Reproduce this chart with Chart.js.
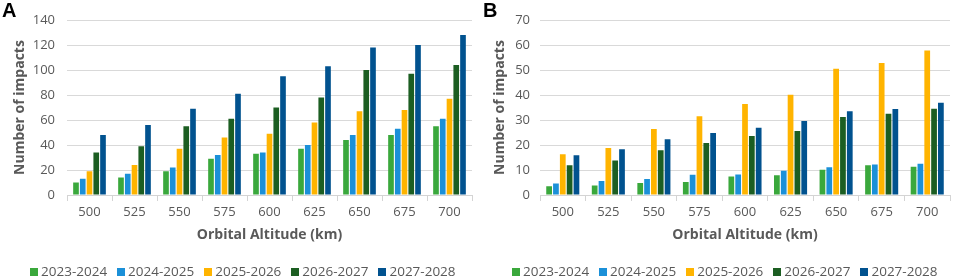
<!DOCTYPE html>
<html>
<head>
<meta charset="utf-8">
<script src="https://cdn.jsdelivr.net/npm/chart.js@4"></script>
<style>
  body { margin: 0; background: #fff; font-family: "Open Sans", sans-serif; }
  .panel { position: absolute; top: 0; height: 279px; }
  .letter { position: absolute; top: -1px; font: bold 20px "Liberation Sans", Arial, sans-serif; color: #000; }
  .legend { position: absolute; top: 262px; white-space: nowrap; font-size: 13.5px; color: #595959; }
  .legend span.item { display: inline-block; margin-right: 10px; }
  .legend i { display: inline-block; width: 8px; height: 8px; margin-right: 3px; }
</style>
</head>
<body>
<div class="panel" style="left:0;width:480px">
  <canvas id="chartA" width="480" height="279"></canvas>
  <div class="letter" style="left:2px">A</div>
  <div class="legend" id="legendA" style="left:30px"></div>
</div>
<div class="panel" style="left:480px;width:475px">
  <canvas id="chartB" width="475" height="279"></canvas>
  <div class="letter" style="left:3px">B</div>
  <div class="legend" id="legendB" style="left:32px"></div>
</div>
<script>
// datos
const altitudes = ["500", "525", "550", "575", "600", "625", "650", "675", "700"];
const periodos = ["2023-2024", "2024-2025", "2025-2026", "2026-2027", "2027-2028"];
const colores = ["#3aa83c", "#1b90d8", "#ffb400", "#1c5e22", "#01528f"];

// panel A
const a2324 = [10, 14, 19, 29, 33, 37, 44, 48, 55];
const a2425 = [13, 17, 22, 32, 34, 40, 48, 53, 61];
const a2526 = [19, 24, 37, 46, 49, 58, 67, 68, 77];
const a2627 = [34, 39, 55, 61, 70, 78, 100, 97, 104];
const a2728 = [48, 56, 69, 81, 95, 103, 118, 120, 128];

// panel B
const b2324 = [3.5, 3.8, 4.8, 5.2, 7.4, 7.9, 10.1, 11.9, 11.3];
const b2425 = [4.6, 5.6, 6.4, 8.1, 8.2, 9.7, 11.1, 12.2, 12.5];
const b2526 = [16.3, 18.8, 26.4, 31.5, 36.4, 40.1, 50.5, 52.8, 57.8];
const b2627 = [11.9, 13.8, 17.9, 20.8, 23.6, 25.6, 31.2, 32.5, 34.5];
const b2728 = [15.9, 18.3, 22.3, 24.8, 26.9, 29.6, 33.5, 34.4, 36.9];

const gris = "#595959";

const hacerGrafico = (id, series, maxY, paso, yAncho, padDer, tickPad) => {
  const datasets = series.map((s, i) => {
    return {
      label: periodos[i],
      data: s,
      backgroundColor: colores[i],
      categoryPercentage: 0.75,
      barPercentage: 0.84,
    };
  });

  new Chart(document.getElementById(id), {
    type: "bar",
    data: { labels: altitudes, datasets: datasets },
    options: {
      responsive: false,
      animation: false,
      layout: { padding: { top: 20, right: padDer, bottom: 34, left: 0 } },
      plugins: { legend: { display: false }, tooltip: { enabled: false } },
      scales: {
        x: {
          grid: { drawOnChartArea: false, drawTicks: true, tickLength: 6, color: "#d4d4d4" },
          border: { display: true, color: "#d4d4d4" },
          ticks: { color: gris, font: { family: "Open Sans", size: 13 }, padding: 3, maxRotation: 0 },
          title: {
            display: true,
            text: "Orbital Altitude (km)",
            color: gris,
            font: { family: "Open Sans", size: 14, weight: "bold" },
            padding: { top: 0, bottom: 2 },
          },
          afterFit: (scale) => {
            scale.height = 50;
          },
        },
        y: {
          min: 0,
          max: maxY,
          ticks: { stepSize: paso, color: gris, font: { family: "Open Sans", size: 13 }, padding: tickPad },
          grid: { drawTicks: false, color: "#d9d9d9", lineWidth: 1 },
          border: { display: false },
          title: {
            display: true,
            text: "Number of impacts",
            color: gris,
            font: { family: "Open Sans", size: 14, weight: "bold" },
            padding: { top: 12, bottom: 0 },
          },
          afterFit: (scale) => {
            scale.width = yAncho;
          },
        },
      },
    },
  });
};

const hacerLeyenda = (id) => {
  let html = "";
  for (let i = 0; i < periodos.length; i++) {
    html += '<span class="item"><i style="background:' + colores[i] + '"></i>' + periodos[i] + "</span>";
  }
  document.getElementById(id).innerHTML = html;
};

hacerGrafico("chartA", [a2324, a2425, a2526, a2627, a2728], 140, 20, 67, 8, 12);
hacerGrafico("chartB", [b2324, b2425, b2526, b2627, b2728], 70, 10, 60, 5, 10);
hacerLeyenda("legendA");
hacerLeyenda("legendB");
</script>
</body>
</html>
